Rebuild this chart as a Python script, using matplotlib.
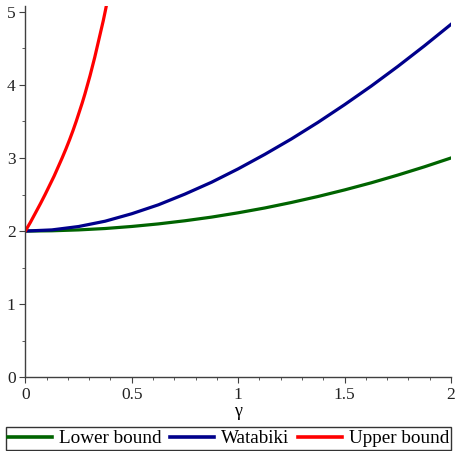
import matplotlib
matplotlib.use("Agg")
import matplotlib.pyplot as plt
from matplotlib.ticker import MultipleLocator

# Data
gamma = [0.0, 0.125, 0.25, 0.375, 0.5, 0.625, 0.75, 0.875, 1.0, 1.125, 1.25,
         1.375, 1.5, 1.625, 1.75, 1.875, 2.0]
lower_bound = [2.0, 2.004, 2.016, 2.035, 2.063, 2.098, 2.141, 2.191, 2.25,
               2.316, 2.391, 2.473, 2.563, 2.66, 2.766, 2.879, 3.0]
watabiki = [2.0, 2.016, 2.062, 2.135, 2.237, 2.359, 2.506, 2.668, 2.851,
            3.049, 3.26, 3.487, 3.729, 3.983, 4.252, 4.534, 4.828]
upper_gamma = [0.0, 0.024, 0.048, 0.071, 0.093, 0.114, 0.135, 0.154, 0.173,
               0.191, 0.208, 0.224, 0.239, 0.253, 0.267, 0.28, 0.292, 0.304,
               0.315, 0.326, 0.336, 0.346, 0.356, 0.366, 0.375, 0.382]
upper_bound = [2.0, 2.12, 2.25, 2.375, 2.5, 2.625, 2.75, 2.875, 3.0, 3.125,
               3.25, 3.375, 3.5, 3.625, 3.75, 3.875, 4.0, 4.125, 4.25, 4.375,
               4.5, 4.625, 4.75, 4.875, 5.0, 5.1]

labels = ["Lower bound", "Watabiki", "Upper bound"]
colors = ["#006400", "#00008B", "#FF0000"]

plt.rcParams['font.family'] = ['Liberation Serif', 'DejaVu Serif']

fig = plt.figure(figsize=(4.57, 4.51), dpi=100)
ax = fig.add_axes([0.0554, 0.1634, 0.9316, 0.8236])

lw = 2.3
ax.plot(gamma, lower_bound, color=colors[0], lw=lw, label=labels[0])
ax.plot(gamma, watabiki, color=colors[1], lw=lw, label=labels[1])
ax.plot(upper_gamma, upper_bound, color=colors[2], lw=lw, label=labels[2])

ax.set_xlim(0, 2)
ax.set_ylim(0, 5.08)
for s in ['top', 'right']:
    ax.spines[s].set_visible(False)
for s in ['left', 'bottom']:
    ax.spines[s].set_color('#404040')
    ax.spines[s].set_linewidth(1.0)

ax.set_xticks([0, 0.5, 1, 1.5, 2])
ax.set_xticklabels(['0', '0.5', '1', '1.5', '2'])
ax.set_yticks([0, 1, 2, 3, 4, 5])
ax.xaxis.set_minor_locator(MultipleLocator(0.1))
ax.yaxis.set_minor_locator(MultipleLocator(0.5))
ax.tick_params(which='major', length=4, width=0.8, labelsize=12.5, pad=3,
               colors='#404040', labelcolor='#222222')
ax.tick_params(which='minor', length=2, width=0.6, colors='#404040')

ax.set_xlabel('γ', fontsize=13, labelpad=0)

leg = fig.legend(loc='center', bbox_to_anchor=(0.5, 0.0277), ncol=3,
                 fontsize=13.8, handlelength=2.3, handletextpad=0.35,
                 columnspacing=0.45, borderpad=0.12, borderaxespad=0,
                 frameon=True, fancybox=False, edgecolor='black')
leg.get_frame().set_linewidth(1.0)
for line in leg.get_lines():
    line.set_linewidth(2.6)

fig.savefig('out.png', dpi=100)
